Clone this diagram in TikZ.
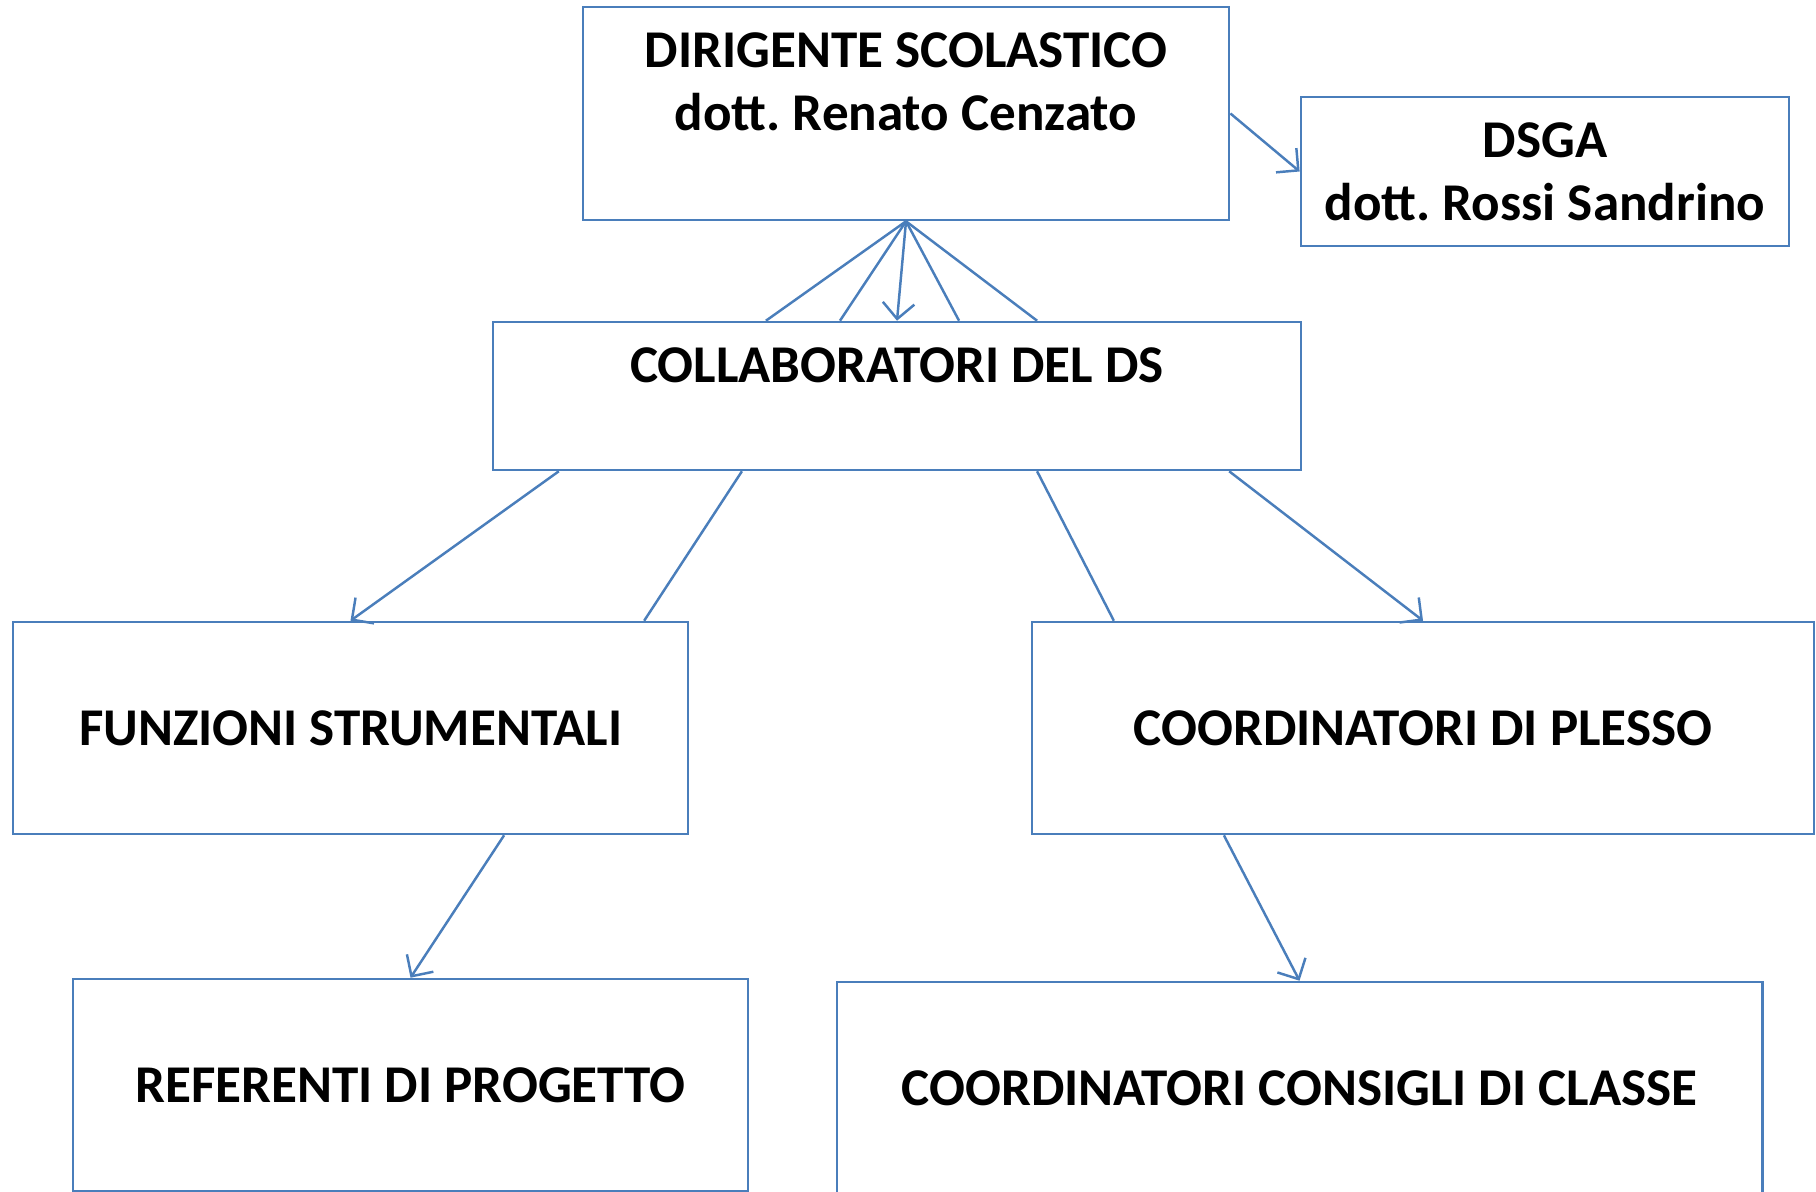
\documentclass[tikz,border=0pt]{standalone}
\usepackage{fontspec}
\setmainfont{Carlito}
\frenchspacing
\usetikzlibrary{arrows.meta}
\definecolor{linea}{RGB}{74,126,187}

\tikzset{
  box/.style={draw=linea, line width=0.7pt, rectangle, inner sep=0pt,
    font=\bfseries\fontsize{15.1}{17.8}\selectfont, align=center},
  txt/.style={font=\bfseries\fontsize{15.1}{17.8}\selectfont, align=center, inner sep=0pt},
  conn/.style={linea, line width=0.7pt},
  arr/.style={conn, -{Straight Barb[length=4.5pt,width=9pt]}}
}

\begin{document}
\begin{tikzpicture}[x=0.01cm, y=-0.01cm]
\useasboundingbox (0,0) rectangle (1816,1191);

% boxes
\node[box, minimum width=6.46cm, minimum height=2.13cm] (ds) at (906,113.5) {};
\node[txt] (dstext) at (906,82) {DIRIGENTE SCOLASTICO\\dott. Renato Cenzato};
\node[box, minimum width=4.88cm, minimum height=1.49cm] (dsga) at (1545,171.5) {DSGA\\dott. Rossi Sandrino};
\node[box, minimum width=8.08cm, minimum height=1.48cm] (coll) at (897,396) {};
\node[txt] (colltext) at (897,365) {COLLABORATORI DEL DS};
\node[box, minimum width=6.75cm, minimum height=2.12cm] (funz) at (350.5,728) {FUNZIONI STRUMENTALI};
\node[box, minimum width=7.82cm, minimum height=2.12cm] (plesso) at (1423,728) {COORDINATORI DI PLESSO};
\node[box, minimum width=6.75cm, minimum height=2.12cm] (ref) at (410.5,1085) {REFERENTI DI PROGETTO};
\node[box, minimum width=9.25cm, minimum height=2.12cm] (cons) at (1299.5,1088) {COORDINATORI CONSIGLI DI CLASSE};

% connectors
\draw[arr] (ds.east) -- (dsga.west);

\draw[conn] (ds.south) -- ([xshift=-1.31cm]coll.north);
\draw[conn] (ds.south) -- ([xshift=-0.57cm]coll.north);
\draw[arr] (ds.south) -- (coll.north);
\draw[conn] (ds.south) -- ([xshift=0.62cm]coll.north);
\draw[conn] (ds.south) -- ([xshift=1.40cm]coll.north);

\draw[arr] ([xshift=-3.38cm]coll.south) -- (funz.north);
\draw[conn] ([xshift=-1.55cm]coll.south) -- ([xshift=2.935cm]funz.north);
\draw[conn] ([xshift=1.40cm]coll.south) -- ([xshift=-3.09cm]plesso.north);
\draw[arr] ([xshift=3.32cm]coll.south) -- (plesso.north);

\draw[arr] ([xshift=1.535cm]funz.south) -- (ref.north);
\draw[arr] ([xshift=-1.99cm]plesso.south) -- (cons.north);
\end{tikzpicture}
\end{document}
